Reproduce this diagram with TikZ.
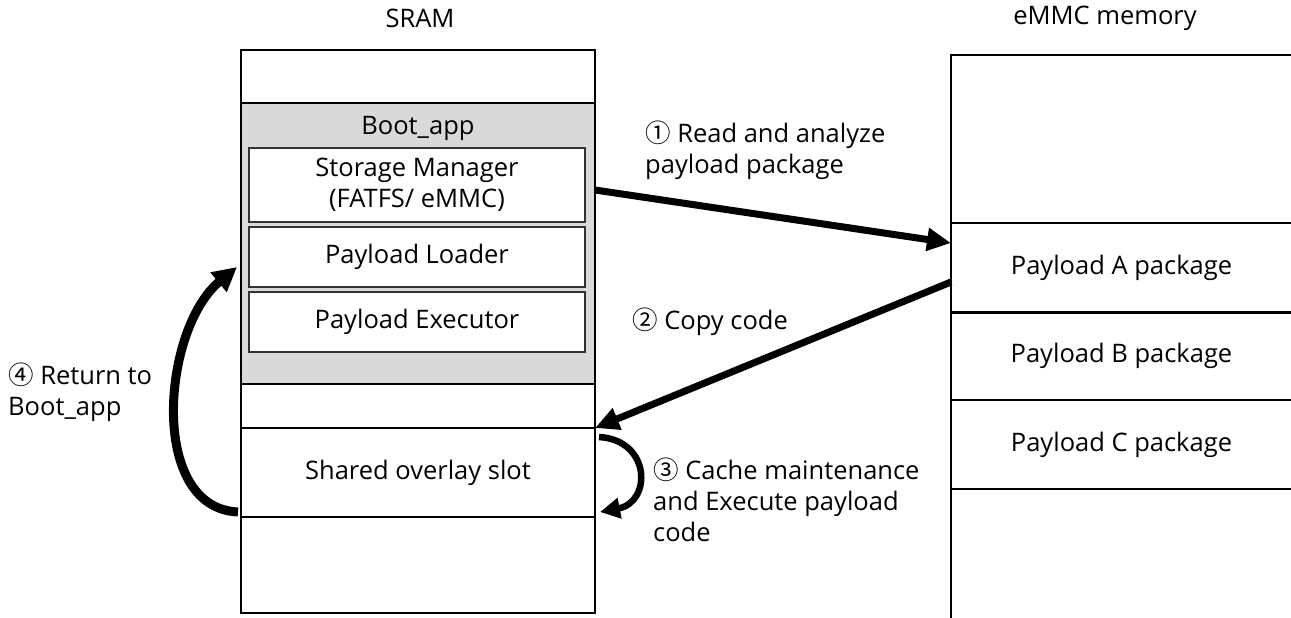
\documentclass[tikz,border=0pt]{standalone}
\usepackage{fontspec}
\setmainfont{Open Sans}
\newfontfamily\circfont{Noto Sans CJK KR}
\usetikzlibrary{positioning,arrows.meta,shapes}
\definecolor{bootgray}{RGB}{217,217,217}
\newcommand{\stepno}[1]{{\circfont #1}}

\begin{document}
\begin{tikzpicture}[x=1pt, y=-1pt,
      font=\fontsize{25.5}{31}\selectfont,
      memcell/.style={rectangle, draw=black, line width=1.4pt, fill=white,
                      anchor=north west, inner sep=0pt, outer sep=0pt,
                      align=center},
      modbox/.style={memcell, draw=black!80, line width=1.2pt,
                     minimum width=336pt},
      label/.style={align=left, anchor=west, inner sep=0pt},
      bigarrow/.style={-{Triangle[length=24pt, width=22pt]}, line width=7pt}
    ]
    \clip (0,0) rectangle (1291,618);
    % --- SRAM ---
    \node[memcell, minimum width=354pt, minimum height=563pt] (sram) at (241,50) {};
    \node[memcell, fill=bootgray, minimum width=354pt, minimum height=281pt] (bootapp) at (241,103) {};
    \node (bootlbl) at (418,128) {Boot\_app};
    \node[modbox, minimum height=74pt] (storage) at (249,148) {Storage Manager\\(FATFS/ eMMC)};
    \node[modbox, minimum height=60pt] (loader) at (249,227) {Payload Loader};
    \node[modbox, minimum height=60pt] (executor) at (249,292) {Payload Executor};
    \node[memcell, minimum width=354pt, minimum height=89pt] (slot) at (241,428) {Shared overlay slot};
    \node (sramlbl) at (420,18) {SRAM};

    % --- eMMC memory ---
    \node[memcell, minimum width=341pt, minimum height=580pt] (emmc) at (951,55) {};
    \node[memcell, minimum width=341pt, minimum height=89pt] (pa) at (951,223) {Payload A package};
    \node[memcell, minimum width=341pt, minimum height=88pt] (pb) at (951,312) {Payload B package};
    \node[memcell, minimum width=341pt, minimum height=89pt] (pc) at (951,400) {Payload C package};
    \draw[line width=3pt] (pa.south west) -- (pa.south east);
    \node (emmclbl) at (1105,18) {eMMC memory};

    % --- steps ---
    \draw[bigarrow] ([yshift=-5pt]storage.east -| sram.east) -- ([yshift=-20pt]pa.north west);
    \draw[bigarrow] ([yshift=30pt]pa.south west) -- (slot.north east);
    \draw[-{Triangle[length=20pt, width=20pt]}, line width=6.5pt]
      ([xshift=4pt, yshift=-9pt]slot.north east) .. controls +(52,3) and +(52,-10) .. ([xshift=5pt, yshift=5pt]slot.south east);
    \draw[-{Triangle[length=24pt, width=24pt]}, line width=9pt]
      ([xshift=-3pt, yshift=5pt]slot.south west) .. controls +(-90,-4) and +(-75,62) .. ([xshift=-4pt, yshift=-10pt]loader.west -| sram.west);

    \node[label] (step1) at (645,150) {\stepno{①} Read and analyze\\payload package};
    \node[label] (step2) at (632,322) {\stepno{②} Copy code};
    \node[label] (step3) at (653,500) {\stepno{③} Cache maintenance\\and Execute payload\\code};
    \node[label] (step4) at (8,392) {\stepno{④} Return to\\Boot\_app};
\end{tikzpicture}
\end{document}
